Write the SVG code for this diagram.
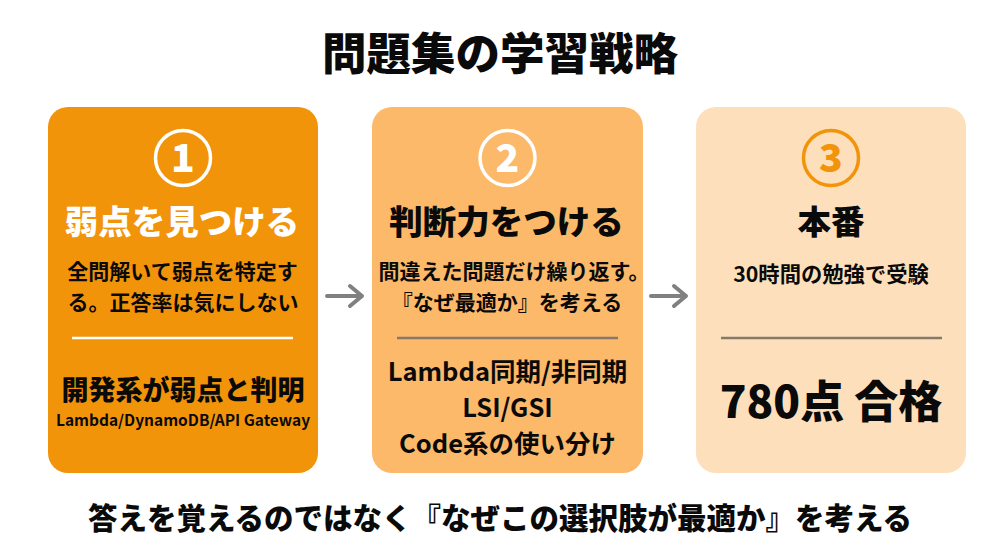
<svg xmlns="http://www.w3.org/2000/svg" width="1000" height="558" viewBox="0 0 1000 558">
<style>
text{font-family:"Noto Sans CJK JP","Noto Sans",sans-serif;font-weight:700;text-anchor:middle;fill:#0a0a0a}
.w{fill:#fff}
.o{fill:#f29409}
.num{font-size:39px;font-weight:900}
.h{font-size:33.500px;font-weight:900}
.b{font-size:21px}
.m{font-size:27px;font-weight:900}
.n{font-size:25.500px}
.c{fill:none;stroke-width:3.500}
.d{stroke-width:2.500}
.a{fill:none;stroke:#808080;stroke-width:4;stroke-linecap:round;stroke-linejoin:round}
</style>
<rect width="1000" height="558" fill="#fff"/>
<text id="title" x="500" y="70" font-size="44.500" style="font-weight:900">問題集の学習戦略</text>
<g id="node1">
<rect x="48" y="107" width="270" height="366" rx="20" fill="#f29409"/>
<circle class="c" cx="183" cy="158" r="27.500" stroke="#fff"/>
<text class="num w" x="183" y="172">1</text>
<text class="h w" x="182" y="234">弱点を見つける</text>
<text class="b" x="182.500" y="279">全問解いて弱点を特定す</text>
<text class="b" x="183" y="310">る。正答率は気にしない</text>
<line class="d" x1="72" y1="338" x2="293" y2="338" stroke="#fff"/>
<text class="m" x="183" y="400">開発系が弱点と判明</text>
<text x="183" y="426" font-size="15.500">Lambda/DynamoDB/API Gateway</text>
</g>
<g id="node2">
<rect x="372" y="107" width="271" height="366" rx="20" fill="#fbb969"/>
<circle class="c" cx="507.500" cy="158" r="27.500" stroke="#fff"/>
<text class="num w" x="507.500" y="172">2</text>
<text class="h" x="506.500" y="234">判断力をつける</text>
<text class="b" x="514" y="279">間違えた問題だけ繰り返す。</text>
<text class="b" x="507" y="310">『なぜ最適か』を考える</text>
<line class="d" x1="397" y1="338" x2="618" y2="338" stroke="#85796b"/>
<text class="n" x="507.500" y="381">Lambda同期/非同期</text>
<text class="n" x="507.500" y="417">LSI/GSI</text>
<text class="n" x="507.500" y="453">Code系の使い分け</text>
</g>
<g id="node3">
<rect x="696" y="107" width="270" height="366" rx="20" fill="#fde0bb"/>
<circle class="c" cx="831" cy="158" r="27.500" stroke="#f29409"/>
<text class="num o" x="831" y="172">3</text>
<text class="h" x="831" y="234">本番</text>
<text x="831" y="282" font-size="21.300">30時間の勉強で受験</text>
<line class="d" x1="721" y1="338" x2="942" y2="338" stroke="#85796b"/>
<text x="831" y="418" font-size="44" style="font-weight:900">780点 合格</text>
</g>
<g id="connectors">
<path class="a" d="M327 296H362M350 286L362 296L350 306"/>
<path class="a" d="M651 296H686M674 286L686 296L674 306"/>
</g>
<text id="footer" x="500" y="529" font-size="29.500" style="font-weight:900">答えを覚えるのではなく『なぜこの選択肢が最適か』を考える</text>
</svg>
